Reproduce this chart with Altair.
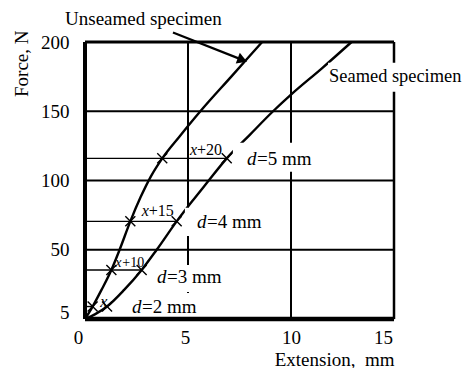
import altair as alt
import pandas as pd

# ---- data ----
unseamed_x = [0, 0.37, 0.8, 1.28, 1.68, 2.2, 2.7, 3.2, 3.75, 4.6, 5.6, 7.1, 8.6]
unseamed_y = [0, 9, 21, 35.4, 50, 70.5, 88, 103, 116, 132, 150, 175, 200]
seamed_x = [0, 0.5, 1.07, 1.9, 2.75, 3.48, 4.45, 5.2, 5.9, 6.88, 8.0, 9.13, 10.0, 11.5, 12.94]
seamed_y = [0, 3.5, 9, 21, 35.4, 50, 70.5, 85, 98, 116, 133, 150, 162, 181, 200]

marker_levels = [9, 35.4, 70.5, 116]
unseamed_marker_x = [0.37, 1.28, 2.2, 3.75]
seamed_marker_x = [1.07, 2.75, 4.45, 6.88]
level_line_end = [0.37, 2.75, 4.45, 6.88]

x_ticks = [0, 5, 10, 15]
y_ticks = [5, 50, 100, 150, 200]
grid_x = [5, 10]
grid_y = [50, 100, 150]

# annotation labels (italic part + plain part)
d_label_x = [2.28, 3.5, 5.44, 7.86]
d_label_y = [8.7, 30.4, 70, 115.7]
d_label_rest = ["=2 mm", "=3 mm", "=4 mm", "=5 mm"]
x_label_x = [0.74, 1.47, 2.75, 5.1]
x_label_y = [12.3, 40.5, 78, 122]
x_label_rest = ["", "+10", "+15", "+20"]
x_label_size = [16, 14, 16, 16]

# white label boxes (x, x2, y, y2)
box_x = [1.85, 3.4, 4.85, 7.18, 11.8]
box_x2 = [5.9, 7.0, 9.0, 10.3, 18.7]
box_y = [-1.4, 19.5, 60, 106.3, 164]
box_y2 = [18.8, 39, 80.3, 127.3, 185]

arrow_x = [4.27, 7.64]
arrow_y = [206.8, 187.1]

FONT = "Liberation Serif, Times New Roman, DejaVu Serif, serif"

xs = alt.Scale(domain=[0, 15], nice=False, zero=False)
ys = alt.Scale(domain=[0, 200], nice=False, zero=False)

x_axis = alt.Axis(values=x_ticks, title="Extension,\u00a0 mm", grid=False, domain=False,
                  ticks=False, labelPadding=9, labelFont=FONT, labelFontSize=19,
                  labelColor="black", labelFontWeight="normal", titleFont=FONT,
                  titleFontSize=19, titleFontWeight="normal", titleColor="black",
                  titleAnchor="end", titlePadding=3, labelFlush=False,
                  labelOffset={"expr": "datum.value == 0 ? -7 : datum.value == 5 ? -3 : datum.value == 15 ? -11 : 0"})
y_axis = alt.Axis(values=y_ticks, title="Force, N", grid=False, domain=False,
                  ticks=False, labelPadding=16, labelFont=FONT, labelFontSize=19,
                  labelColor="black", titleFont=FONT, titleFontSize=19,
                  titleFontWeight="normal", titleColor="black", titleAngle=270,
                  titleAlign="right", titleBaseline="alphabetic", titleX=-58, titleY=-12,
                  labelFlush=False)


def X(field):
    return alt.X(field, type="quantitative", scale=xs, axis=x_axis)


def Y(field):
    return alt.Y(field, type="quantitative", scale=ys, axis=y_axis)


curves = pd.DataFrame(
    {"x": unseamed_x + seamed_x,
     "y": unseamed_y + seamed_y,
     "s": ["u"] * len(unseamed_x) + ["s"] * len(seamed_x)}
)
gx = pd.DataFrame({"x": grid_x})
gy = pd.DataFrame({"y": grid_y})
levels = pd.DataFrame({"x": [0] * 4, "x2": level_line_end, "y": marker_levels})
markers = pd.DataFrame({"x": unseamed_marker_x + seamed_marker_x,
                        "y": marker_levels + marker_levels})
boxes = pd.DataFrame({"x": box_x, "x2": box_x2, "y": box_y, "y2": box_y2})
dlab = pd.DataFrame({"x": d_label_x, "y": d_label_y, "t": ["d"] * 4, "r": d_label_rest})
xlab = pd.DataFrame({"x": x_label_x, "y": x_label_y, "t": ["x"] * 4, "r": x_label_rest,
                     "fs": x_label_size})
arrow = pd.DataFrame({"x": arrow_x, "y": arrow_y})
head = pd.DataFrame({"x": [arrow_x[1]], "y": [arrow_y[1]]})
texts = pd.DataFrame({"x": [-0.97, 11.85], "y": [216.6, 175.7],
                      "t": ["Unseamed specimen", "Seamed specimen"],
                      "fs": [19, 18.4]})

layers = []

# grid lines
layers.append(alt.Chart(gx).mark_rule(color="black", strokeWidth=2).encode(x=X("x")))
layers.append(alt.Chart(gy).mark_rule(color="black", strokeWidth=1.8).encode(y=Y("y")))
# frame: left, top, right
layers.append(alt.Chart(pd.DataFrame({"x": [0]})).mark_rule(color="black", strokeWidth=4).encode(x=X("x")))
layers.append(alt.Chart(pd.DataFrame({"x": [15]})).mark_rule(color="black", strokeWidth=2.5).encode(x=X("x")))
layers.append(alt.Chart(pd.DataFrame({"y": [200]})).mark_rule(color="black", strokeWidth=3).encode(y=Y("y")))
# level lines
layers.append(alt.Chart(levels).mark_rule(color="black", strokeWidth=1.4).encode(
    x=X("x"), x2="x2", y=Y("y")))
# curves
layers.append(alt.Chart(curves).mark_line(color="black", strokeWidth=2.4, interpolate="monotone").encode(
    x=X("x"), y=Y("y"), detail="s:N"))
# markers
layers.append(alt.Chart(markers).mark_point(
    shape="M -1 -1 L 1 1 M -1 1 L 1 -1", filled=False, color="black", strokeWidth=1.4,
    size=100, opacity=1).encode(x=X("x"), y=Y("y")))
# white boxes
layers.append(alt.Chart(boxes).mark_rect(color="white").encode(
    x=X("x"), x2="x2", y=Y("y"), y2="y2"))
# bottom axis line on top
layers.append(alt.Chart(pd.DataFrame({"y": [0]})).mark_rule(color="black", strokeWidth=4.5).encode(y=Y("y")))
# d labels
layers.append(alt.Chart(dlab).mark_text(font=FONT, fontSize=19, fontStyle="italic", align="left",
                                         baseline="middle", color="black").encode(
    x=X("x"), y=Y("y"), text="t:N"))
layers.append(alt.Chart(dlab).mark_text(font=FONT, fontSize=19, align="left", dx=10,
                                         baseline="middle", color="black").encode(
    x=X("x"), y=Y("y"), text="r:N"))
# x labels
layers.append(alt.Chart(xlab).mark_text(font=FONT, fontStyle="italic", align="left",
                                         baseline="middle", color="black").encode(
    x=X("x"), y=Y("y"), text="t:N", size=alt.Size("fs:Q", scale=None, legend=None)))
layers.append(alt.Chart(xlab).mark_text(font=FONT, align="left", dx=7,
                                         baseline="middle", color="black").encode(
    x=X("x"), y=Y("y"), text="r:N", size=alt.Size("fs:Q", scale=None, legend=None)))
# specimen texts
layers.append(alt.Chart(texts).mark_text(font=FONT, align="left", baseline="middle",
                                          color="black").encode(
    x=X("x"), y=Y("y"), text="t:N", size=alt.Size("fs:Q", scale=None, legend=None)))
# arrow
layers.append(alt.Chart(arrow).mark_line(color="black", strokeWidth=2.2).encode(x=X("x"), y=Y("y")))
layers.append(alt.Chart(head).mark_point(shape="triangle-right", filled=True, color="black",
                                          size=130, angle=21, opacity=1).encode(x=X("x"), y=Y("y")))

chart = alt.layer(*layers).properties(
    width=309, height=277,
    autosize=alt.AutoSizeParams(type="none"),
    padding={"left": 77, "top": 34, "right": 73, "bottom": 49},
).configure_view(stroke=None).configure(background="white")

chart.save("out.html", embed_options={"renderer": "svg", "actions": False})
